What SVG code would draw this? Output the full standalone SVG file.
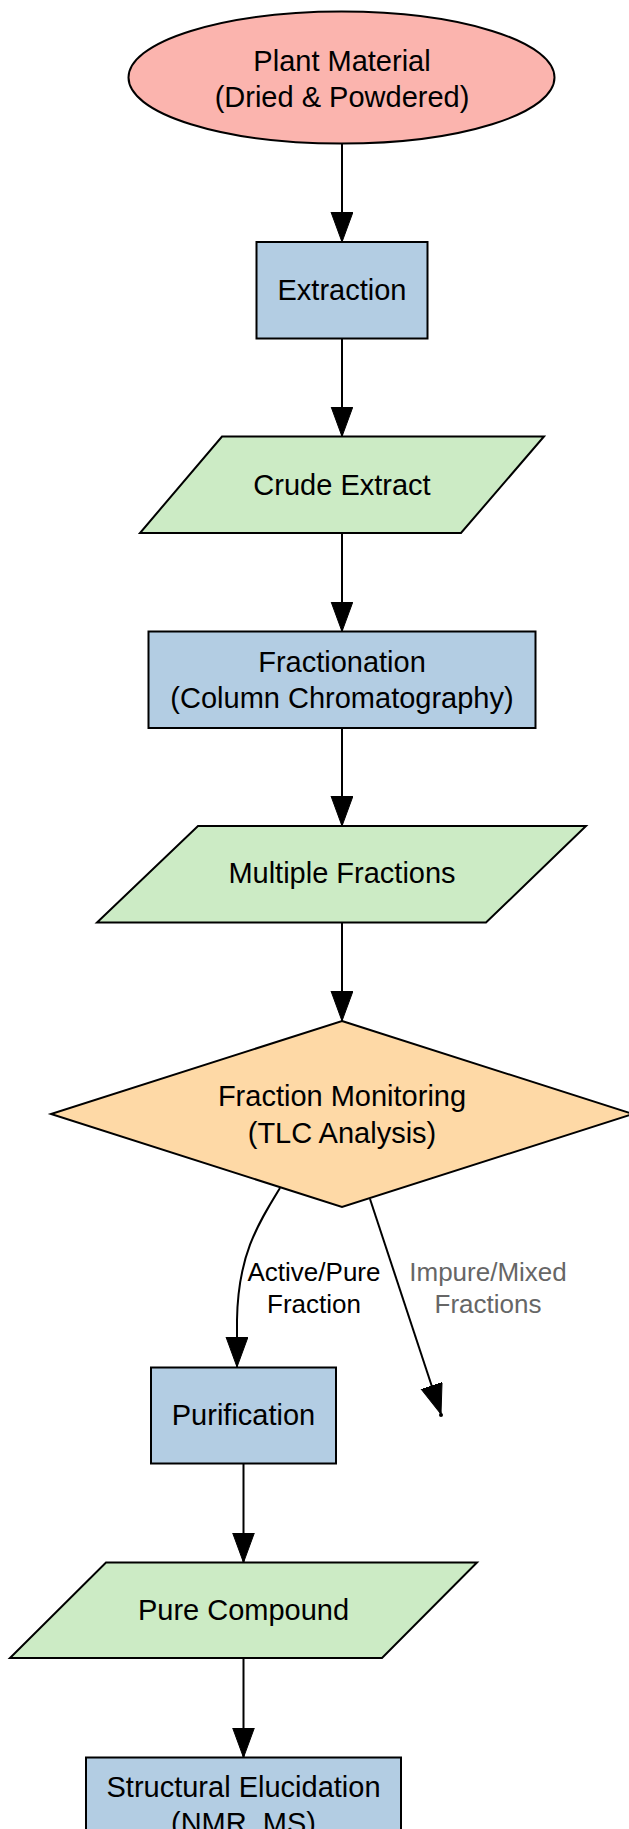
<svg xmlns="http://www.w3.org/2000/svg" width="629" height="1829" viewBox="0 0 629 1829">
<style>
.node{stroke:#000;stroke-width:2}
.oval{fill:#fbb4ae}
.proc{fill:#b3cde3}
.data{fill:#ccebc5}
.dec{fill:#fed9a6}
text{font-family:"Liberation Sans",Arial,sans-serif;text-anchor:middle;fill:#000}
.t{font-size:29px}
.lbl{font-size:26px}
.gray{fill:#666}
.edge{fill:none;stroke:#000;stroke-width:2}
</style>
<defs>
<marker id="arr" markerUnits="userSpaceOnUse" markerWidth="32" markerHeight="24" refX="30" refY="11" orient="auto" viewBox="0 0 32 24">
<path d="M0,0 L30,11 L0,22 z" fill="#000" stroke="#000" stroke-width="1"/>
</marker>
</defs>
<rect width="629" height="1829" fill="#fff"/>
<g id="connectors">
<path class="edge" d="M342,143.5 L342,242" marker-end="url(#arr)"/>
<path class="edge" d="M342,338.5 L342,436.5" marker-end="url(#arr)"/>
<path class="edge" d="M342,533 L342,631.5" marker-end="url(#arr)"/>
<path class="edge" d="M342,728 L342,826" marker-end="url(#arr)"/>
<path class="edge" d="M342,922.5 L342,1021" marker-end="url(#arr)"/>
<path class="edge" d="M280,1188 C258,1224 238,1255 237,1320 L237,1367" marker-end="url(#arr)"/>
<path class="edge" d="M370,1199 L441,1414" marker-end="url(#arr)"/>
<path class="edge" d="M243.5,1463.5 L243.5,1562.5" marker-end="url(#arr)"/>
<path class="edge" d="M243.5,1658 L243.5,1757.5" marker-end="url(#arr)"/>
<text class="lbl" x="314" y="1281">Active/Pure</text>
<text class="lbl" x="314" y="1313">Fraction</text>
<text class="lbl gray" x="488" y="1281">Impure/Mixed</text>
<text class="lbl gray" x="488" y="1313">Fractions</text>
</g>
<g id="plant">
<ellipse class="node oval" cx="341.5" cy="77.6" rx="213" ry="66"/>
<text class="t" x="342" y="71">Plant Material</text>
<text class="t" x="342" y="107">(Dried &amp; Powdered)</text>
</g>
<g id="extraction">
<rect class="node proc" x="256.5" y="242" width="171" height="96.5"/>
<text class="t" x="342" y="300">Extraction</text>
</g>
<g id="crude">
<polygon class="node data" points="222,436.5 544,436.5 461,533 140,533"/>
<text class="t" x="342" y="495">Crude Extract</text>
</g>
<g id="fractionation">
<rect class="node proc" x="148.5" y="631.5" width="387" height="96.5"/>
<text class="t" x="342" y="672">Fractionation</text>
<text class="t" x="342" y="708">(Column Chromatography)</text>
</g>
<g id="fractions">
<polygon class="node data" points="198,826 586,826 486,922.5 97,922.5"/>
<text class="t" x="342" y="883">Multiple Fractions</text>
</g>
<g id="monitoring">
<polygon class="node dec" points="342,1021 633,1114 342,1207 51,1114"/>
<text class="t" x="342" y="1106">Fraction Monitoring</text>
<text class="t" x="342" y="1143">(TLC Analysis)</text>
</g>
<g id="discard">
<circle cx="441" cy="1415" r="2" fill="#000"/>
</g>
<g id="purification">
<rect class="node proc" x="151" y="1367.5" width="185" height="96"/>
<text class="t" x="243.5" y="1425">Purification</text>
</g>
<g id="pure">
<polygon class="node data" points="106,1562.5 477,1562.5 382,1658 10,1658"/>
<text class="t" x="243.5" y="1620">Pure Compound</text>
</g>
<g id="structure">
<rect class="node proc" x="86" y="1757.5" width="315" height="96"/>
<text class="t" x="243.5" y="1797">Structural Elucidation</text>
<text class="t" x="243.5" y="1833">(NMR, MS)</text>
</g>
</svg>
